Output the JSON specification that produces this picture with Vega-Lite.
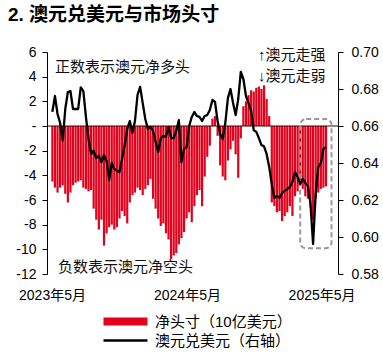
{
  "$schema": "https://vega.github.io/schema/vega-lite/v6.json",
  "width": 291,
  "height": 222,
  "padding": {"left": 8, "top": 6, "right": 0, "bottom": 0},
  "title": {"text": "2. 澳元兑美元与市场头寸", "anchor": "start", "frame": "group", "offset": 20, "dx": -39, "fontSize": 19, "font": "Liberation Sans, Noto Sans CJK SC", "fontWeight": "bold", "color": "#000"},
  "config": {"view": {"stroke": null}, "axis": {"grid": false}},
  "datasets": {"main": [
    {"date":"2023-05-02","pos":-4.5,"aud":0.6676},{"date":"2023-05-09","pos":-5.0,"aud":0.6762},{"date":"2023-05-16","pos":-5.4,"aud":0.6665},{"date":"2023-05-23","pos":-5.0,"aud":0.6616},{"date":"2023-05-30","pos":-4.8,"aud":0.6521},
    {"date":"2023-06-06","pos":-5.5,"aud":0.6692},{"date":"2023-06-13","pos":-6.2,"aud":0.6784},{"date":"2023-06-20","pos":-5.4,"aud":0.6789},{"date":"2023-06-27","pos":-4.8,"aud":0.6692},{"date":"2023-07-04","pos":-4.6,"aud":0.6692},
    {"date":"2023-07-11","pos":-4.5,"aud":0.6692},{"date":"2023-07-18","pos":-4.4,"aud":0.6809},{"date":"2023-07-25","pos":-5.0,"aud":0.6789},{"date":"2023-08-01","pos":-5.1,"aud":0.6649},{"date":"2023-08-08","pos":-5.3,"aud":0.6530},
    {"date":"2023-08-15","pos":-5.2,"aud":0.6449},{"date":"2023-08-22","pos":-6.7,"aud":0.6466},{"date":"2023-08-29","pos":-7.6,"aud":0.6427},{"date":"2023-09-05","pos":-8.4,"aud":0.6438},{"date":"2023-09-12","pos":-7.6,"aud":0.6405},
    {"date":"2023-09-19","pos":-9.7,"aud":0.6443},{"date":"2023-09-26","pos":-8.7,"aud":0.6411},{"date":"2023-10-03","pos":-8.2,"aud":0.6308},{"date":"2023-10-10","pos":-8.0,"aud":0.6400},{"date":"2023-10-17","pos":-8.4,"aud":0.6368},
    {"date":"2023-10-24","pos":-8.2,"aud":0.6358},{"date":"2023-10-31","pos":-7.5,"aud":0.6351},{"date":"2023-11-07","pos":-6.9,"aud":0.6422},{"date":"2023-11-14","pos":-7.3,"aud":0.6497},{"date":"2023-11-21","pos":-7.9,"aud":0.6584},
    {"date":"2023-11-28","pos":-6.2,"aud":0.6627},{"date":"2023-12-05","pos":-5.6,"aud":0.6562},{"date":"2023-12-12","pos":-5.4,"aud":0.6627},{"date":"2023-12-19","pos":-5.0,"aud":0.6768},{"date":"2023-12-26","pos":-5.2,"aud":0.6811},
    {"date":"2024-01-02","pos":-5.6,"aud":0.6724},{"date":"2024-01-09","pos":-5.1,"aud":0.6638},{"date":"2024-01-16","pos":-4.8,"aud":0.6584},{"date":"2024-01-23","pos":-4.3,"aud":0.6595},{"date":"2024-01-30","pos":-5.9,"aud":0.6573},
    {"date":"2024-02-06","pos":-6.7,"aud":0.6514},{"date":"2024-02-13","pos":-7.5,"aud":0.6459},{"date":"2024-02-20","pos":-8.1,"aud":0.6535},{"date":"2024-02-27","pos":-7.9,"aud":0.6546},{"date":"2024-03-05","pos":-8.7,"aud":0.6541},
    {"date":"2024-03-12","pos":-9.2,"aud":0.6595},{"date":"2024-03-19","pos":-10.8,"aud":0.6535},{"date":"2024-03-26","pos":-10.5,"aud":0.6535},{"date":"2024-04-02","pos":-10.3,"aud":0.6573},{"date":"2024-04-09","pos":-9.6,"aud":0.6632},
    {"date":"2024-04-16","pos":-9.1,"aud":0.6405},{"date":"2024-04-23","pos":-8.6,"aud":0.6476},{"date":"2024-04-30","pos":-7.5,"aud":0.6486},{"date":"2024-05-07","pos":-7.0,"aud":0.6600},{"date":"2024-05-14","pos":-7.8,"aud":0.6649},
    {"date":"2024-05-21","pos":-6.5,"aud":0.6676},{"date":"2024-05-28","pos":-5.6,"aud":0.6654},{"date":"2024-06-04","pos":-5.2,"aud":0.6649},{"date":"2024-06-11","pos":-6.5,"aud":0.6627},{"date":"2024-06-18","pos":-4.1,"aud":0.6654},
    {"date":"2024-06-25","pos":-2.5,"aud":0.6659},{"date":"2024-07-02","pos":-1.6,"aud":0.6686},{"date":"2024-07-09","pos":0.6,"aud":0.6741},{"date":"2024-07-16","pos":0.8,"aud":0.6730},{"date":"2024-07-23","pos":-0.8,"aud":0.6627},
    {"date":"2024-07-30","pos":-3.2,"aud":0.6557},{"date":"2024-08-06","pos":-4.1,"aud":0.6530},{"date":"2024-08-13","pos":-4.4,"aud":0.6616},{"date":"2024-08-20","pos":-2.8,"aud":0.6751},{"date":"2024-08-27","pos":-1.9,"aud":0.6800},
    {"date":"2024-09-03","pos":-1.2,"aud":0.6724},{"date":"2024-09-10","pos":-2.3,"aud":0.6659},{"date":"2024-09-17","pos":-4.2,"aud":0.6746},{"date":"2024-09-24","pos":-1.0,"aud":0.6892},{"date":"2024-10-01","pos":1.6,"aud":0.6854},
    {"date":"2024-10-08","pos":2.0,"aud":0.6762},{"date":"2024-10-15","pos":2.5,"aud":0.6724},{"date":"2024-10-22","pos":2.9,"aud":0.6681},{"date":"2024-10-29","pos":2.8,"aud":0.6578},{"date":"2024-11-05","pos":3.1,"aud":0.6568},
    {"date":"2024-11-12","pos":3.2,"aud":0.6535},{"date":"2024-11-19","pos":3.0,"aud":0.6497},{"date":"2024-11-26","pos":3.3,"aud":0.6490},{"date":"2024-12-03","pos":2.2,"aud":0.6449},{"date":"2024-12-10","pos":0.8,"aud":0.6378},
    {"date":"2024-12-17","pos":-6.2,"aud":0.6286},{"date":"2024-12-24","pos":-6.5,"aud":0.6211},{"date":"2024-12-31","pos":-7.0,"aud":0.6222},{"date":"2025-01-07","pos":-6.9,"aud":0.6211},{"date":"2025-01-14","pos":-7.7,"aud":0.6238},
    {"date":"2025-01-21","pos":-7.3,"aud":0.6249},{"date":"2025-01-28","pos":-7.0,"aud":0.6259},{"date":"2025-02-04","pos":-6.5,"aud":0.6270},{"date":"2025-02-11","pos":-7.3,"aud":0.6297},{"date":"2025-02-18","pos":-5.7,"aud":0.6351},
    {"date":"2025-02-25","pos":-5.3,"aud":0.6324},{"date":"2025-03-04","pos":-4.4,"aud":0.6286},{"date":"2025-03-11","pos":-5.1,"aud":0.6314},{"date":"2025-03-18","pos":-5.7,"aud":0.6292},{"date":"2025-03-25","pos":-5.9,"aud":0.6276},
    {"date":"2025-04-01","pos":-6.6,"aud":0.6178},{"date":"2025-04-08","pos":-7.6,"aud":0.5962},{"date":"2025-04-15","pos":-5.9,"aud":0.6232},{"date":"2025-04-22","pos":-5.4,"aud":0.6378},{"date":"2025-04-29","pos":-5.1,"aud":0.6400},
    {"date":"2025-05-06","pos":-5.0,"aud":0.6476},{"date":"2025-05-13","pos":-4.9,"aud":0.6486}
  ], "one": [{}]},
  "layer": [
    {
      "layer": [
        {
          "data": {"name": "main"},
          "mark": {"type": "bar", "size": 2.2},
          "encoding": {
            "x": {"field": "date", "type": "temporal",
              "scale": {"type": "utc", "domain": [1682899200000, 1748736000000]},
              "axis": {"title": null, "values": [1682899200000, 1714521600000, 1746057600000], "format": "%Y年%-m月", "domain": false, "ticks": false, "labelPadding": 14, "labelFlush": false, "labelOverlap": false, "labelFontSize": 14, "labelFont": "Liberation Sans, Noto Sans CJK SC", "labelColor": "#000"}},
            "y": {"field": "pos", "type": "quantitative",
              "scale": {"domain": [-12, 6], "nice": false, "zero": false},
              "axis": {"title": null, "values": [-12,-10,-8,-6,-4,-2,0,2,4,6], "labelExpr": "datum.value == 0 ? '-' : toString(datum.value)", "labelOverlap": false, "tickSize": 5, "labelPadding": 6, "domainColor": "#000", "tickColor": "#000", "labelColor": "#000", "labelFontSize": 14, "labelFont": "Liberation Sans", "grid": false}},
            "fill": {"datum": "净头寸（10亿美元）", "type": "nominal", "scale": {"range": ["#E3001B"]},
              "legend": {"orient": "none", "legendX": 71, "legendY": 262, "title": null, "padding": 0, "symbolType": "M-4.4,-0.8L4.4,-0.8L4.4,0.8L-4.4,0.8Z", "symbolSize": 100, "symbolStrokeWidth": 0, "labelFontSize": 15, "labelOffset": 22, "labelFont": "Liberation Sans, Noto Sans CJK SC", "labelColor": "#000"}}
          }
        },
        {
          "data": {"name": "one"},
          "mark": {"type": "rule", "color": "#3a0000", "strokeWidth": 1},
          "encoding": {"x": {"value": 0}, "x2": {"value": "width"},
            "y": {"datum": 0, "type": "quantitative",
              "axis": {"title": null, "values": [-12,-10,-8,-6,-4,-2,0,2,4,6], "labelExpr": "datum.value == 0 ? '-' : toString(datum.value)", "labelOverlap": false, "tickSize": 5, "labelPadding": 6, "domainColor": "#000", "tickColor": "#000", "labelColor": "#000", "labelFontSize": 14, "labelFont": "Liberation Sans", "grid": false}}}
        },
        {
          "data": {"name": "one"},
          "mark": {"type": "rect", "fill": null, "fillOpacity": 0, "stroke": "#999999", "strokeWidth": 2, "strokeDash": [5, 3], "cornerRadius": 6},
          "encoding": {
            "x": {"datum": {"year": 2025, "month": 3, "date": 4, "utc": true}, "type": "temporal"},
            "x2": {"datum": {"year": 2025, "month": 5, "date": 28, "utc": true}},
            "y": {"datum": 0.57, "type": "quantitative",
              "axis": {"title": null, "values": [-12,-10,-8,-6,-4,-2,0,2,4,6], "labelExpr": "datum.value == 0 ? '-' : toString(datum.value)", "labelOverlap": false, "tickSize": 5, "labelPadding": 6, "domainColor": "#000", "tickColor": "#000", "labelColor": "#000", "labelFontSize": 14, "labelFont": "Liberation Sans", "grid": false}},
            "y2": {"datum": -9.92}
          }
        },
        {
          "data": {"name": "one"},
          "mark": {"type": "text", "text": "正数表示澳元净多头", "align": "left", "baseline": "middle", "fontSize": 15, "fontWeight": "normal", "font": "Liberation Sans, Noto Sans CJK SC", "color": "#111"},
          "encoding": {
            "x": {"datum": {"year": 2023, "month": 5, "date": 9, "utc": true}, "type": "temporal"},
            "y": {"datum": 4.76, "type": "quantitative",
              "axis": {"title": null, "values": [-12,-10,-8,-6,-4,-2,0,2,4,6], "labelExpr": "datum.value == 0 ? '-' : toString(datum.value)", "labelOverlap": false, "tickSize": 5, "labelPadding": 6, "domainColor": "#000", "tickColor": "#000", "labelColor": "#000", "labelFontSize": 14, "labelFont": "Liberation Sans", "grid": false}}
          }
        },
        {
          "data": {"name": "one"},
          "mark": {"type": "text", "text": "负数表示澳元净空头", "align": "left", "baseline": "middle", "fontSize": 15, "fontWeight": "normal", "font": "Liberation Sans, Noto Sans CJK SC", "color": "#111"},
          "encoding": {
            "x": {"datum": {"year": 2023, "month": 5, "date": 17, "utc": true}, "type": "temporal"},
            "y": {"datum": -11.43, "type": "quantitative",
              "axis": {"title": null, "values": [-12,-10,-8,-6,-4,-2,0,2,4,6], "labelExpr": "datum.value == 0 ? '-' : toString(datum.value)", "labelOverlap": false, "tickSize": 5, "labelPadding": 6, "domainColor": "#000", "tickColor": "#000", "labelColor": "#000", "labelFontSize": 14, "labelFont": "Liberation Sans", "grid": false}}
          }
        },
        {
          "data": {"name": "one"},
          "mark": {"type": "text", "text": "↑澳元走强", "align": "right", "baseline": "middle", "fontSize": 15, "fontWeight": "normal", "font": "Liberation Sans, Noto Sans CJK SC", "color": "#111"},
          "encoding": {
            "x": {"datum": {"year": 2025, "month": 5, "date": 12, "utc": true}, "type": "temporal"},
            "y": {"datum": 5.76, "type": "quantitative",
              "axis": {"title": null, "values": [-12,-10,-8,-6,-4,-2,0,2,4,6], "labelExpr": "datum.value == 0 ? '-' : toString(datum.value)", "labelOverlap": false, "tickSize": 5, "labelPadding": 6, "domainColor": "#000", "tickColor": "#000", "labelColor": "#000", "labelFontSize": 14, "labelFont": "Liberation Sans", "grid": false}}
          }
        },
        {
          "data": {"name": "one"},
          "mark": {"type": "text", "text": "↓澳元走弱", "align": "right", "baseline": "middle", "fontSize": 15, "fontWeight": "normal", "font": "Liberation Sans, Noto Sans CJK SC", "color": "#111"},
          "encoding": {
            "x": {"datum": {"year": 2025, "month": 5, "date": 12, "utc": true}, "type": "temporal"},
            "y": {"datum": 4.08, "type": "quantitative",
              "axis": {"title": null, "values": [-12,-10,-8,-6,-4,-2,0,2,4,6], "labelExpr": "datum.value == 0 ? '-' : toString(datum.value)", "labelOverlap": false, "tickSize": 5, "labelPadding": 6, "domainColor": "#000", "tickColor": "#000", "labelColor": "#000", "labelFontSize": 14, "labelFont": "Liberation Sans", "grid": false}}
          }
        }
      ]
    },
    {
      "data": {"name": "main"},
      "mark": {"type": "line", "strokeWidth": 2.3, "strokeJoin": "round"},
      "encoding": {
        "x": {"field": "date", "type": "temporal"},
        "y": {"field": "aud", "type": "quantitative",
          "scale": {"domain": [0.58, 0.70], "nice": false, "zero": false},
          "axis": {"title": null, "orient": "right", "values": [0.58,0.60,0.62,0.64,0.66,0.68,0.70], "format": ".2f", "labelOverlap": false, "tickSize": 5, "labelPadding": 8, "domainColor": "#000", "tickColor": "#000", "labelColor": "#000", "labelFontSize": 14, "labelFont": "Liberation Sans", "grid": false}},
        "stroke": {"datum": "澳元兑美元（右轴）", "type": "nominal", "scale": {"range": ["#000000"]},
          "legend": {"orient": "none", "legendX": 71, "legendY": 281, "title": null, "padding": 0, "symbolType": "M-4.4,0L4.4,0", "symbolSize": 100, "symbolStrokeWidth": 2.5, "labelFontSize": 15, "labelOffset": 22, "labelFont": "Liberation Sans, Noto Sans CJK SC", "labelColor": "#000"}}
      }
    }
  ],
  "resolve": {"scale": {"y": "independent"}}
}
